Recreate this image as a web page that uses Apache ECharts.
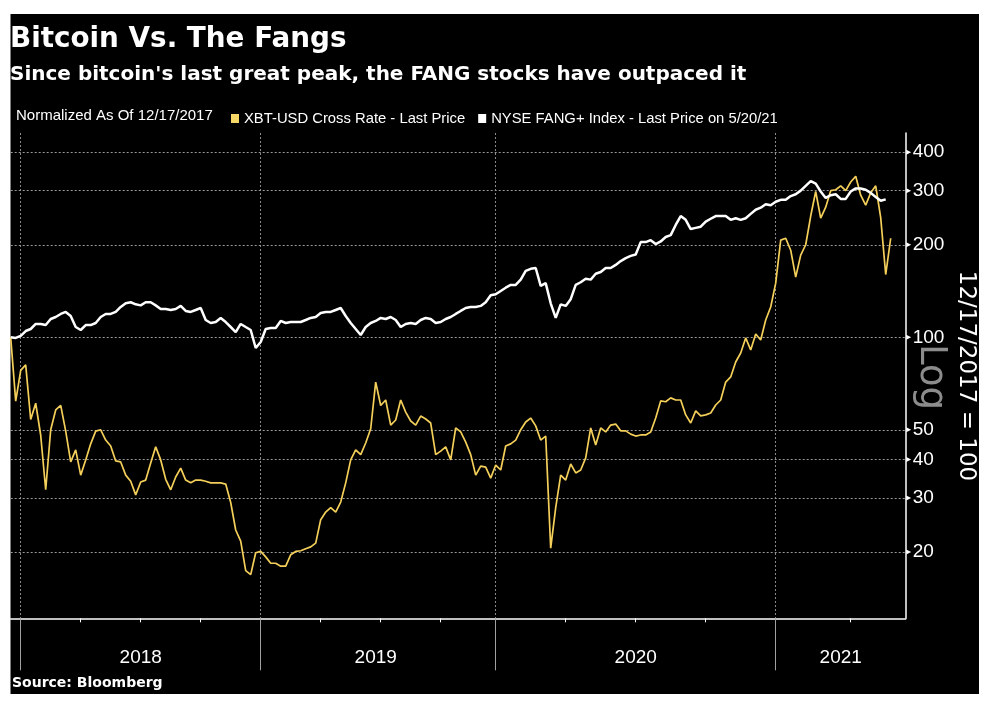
<!DOCTYPE html>
<html>
<head>
<meta charset="utf-8">
<title>Bitcoin Vs. The Fangs</title>
<script src="https://cdn.jsdelivr.net/npm/echarts@6/dist/echarts.min.js"></script>
<style>
  html, body { margin: 0; padding: 0; background: #fff; }
  #chart { width: 990px; height: 705px; }
</style>
</head>
<body>
<div id="chart"></div>
<script>
// sample dates: [first date, count, days between samples]
var dateSegments = [
    ['2017-12-17', 2, 7],
    ['2018-01-01', 48, 365 / 48],
    ['2019-01-01', 47, 365 / 47],
    ['2020-01-01', 56, 366 / 56],
    ['2021-01-01', 27, 6]
];

// XBT-USD, normalized 12/17/2017 = 100
var xbt = [
    100, 62, 78, 81.3, 54, 61, 48, 31.9, 50, 58,
    60, 49.5, 39.3, 43, 35.6, 39.9, 45, 49.5, 50, 46.3,
    44.3, 39.6, 39.3, 35.6, 34, 30.7, 33.8, 34.3, 39, 44,
    39.9, 34.5, 31.9, 35.1, 37.5, 34.3, 33.6, 34.3, 34.3, 34,
    33.6, 33.6, 33.6, 33.3, 29, 23.6, 21.7, 17.4, 16.9, 19.9,
    20.1, 19.3, 18.4, 18.4, 18.0, 18.0, 19.6, 20.1, 20.2, 20.5,
    20.8, 21.4, 25.5, 27.0, 27.9, 27.0, 29.1, 33.6, 39.9, 43,
    41.5, 45.3, 50.4, 71.5, 60, 62.5, 51.8, 53.8, 62.5, 57.1,
    53.4, 51.8, 55.4, 54.2, 52.6, 41.5, 42.6, 44, 39.9, 50.7,
    49.2, 45.6, 41.5, 35.6, 38.1, 37.8, 34.8, 38.4, 37, 44.3,
    45, 46.3, 50, 53, 54.6, 51.5, 46.3, 47.7, 20.6, 27.9,
    35.6, 34.3, 38.7, 36.2, 37, 40.5, 50.7, 44.6, 50.7, 49.2,
    51.8, 52.2, 49.6, 49.6, 48.4, 47.7, 48.1, 48.1, 49.2, 54.6,
    62.1, 61.7, 63.5, 62.5, 62.5, 55.9, 52.6, 57.6, 55.5, 55.9,
    56.7, 60.2, 62.5, 71.5, 74.3, 83.1, 88.9, 99.5, 90.9, 102.5,
    98, 113.8, 125.5, 150, 207, 210, 192, 157, 185, 200,
    248, 298, 244, 265, 300, 302, 311, 300, 320, 334,
    290, 269, 295, 311, 245, 160, 210
];

// NYSE FANG+ Index, normalized 12/17/2017 = 100
var fang = [
    100, 99.5, 101, 104.8, 106.4, 110.5, 110.5, 109.6, 114.7, 116.4,
    119.1, 120.9, 117.3, 108, 105.6, 109.6, 109.6, 111.3, 116.4, 119.1,
    119.1, 120.9, 125.5, 129, 130, 128, 127, 130, 130, 127,
    123.6, 123.6, 122.7, 123.6, 126.5, 121.8, 120.9, 122.7, 124.5, 113.8,
    111.3, 112.1, 115.6, 112.1, 108, 104, 110.5, 108, 105.6, 92.3,
    96.5, 106.4, 107.2, 107.2, 113, 111.3, 112.1, 112.1, 112.1, 113.8,
    115.6, 116.4, 120, 120.9, 120.9, 122.7, 124.5, 117.3, 111.3, 106.4,
    101.7, 108, 111.3, 113, 115.6, 114.7, 116.4, 113.8, 108, 110.5,
    111.3, 110.5, 113.8, 115.6, 114.7, 111.3, 112.1, 114.7, 116.4, 119.1,
    121.8, 124.5, 125.5, 125.5, 126.5, 130, 137, 138, 141.5, 145,
    148, 148, 154, 164.5, 167, 168, 147, 150, 129, 115.6,
    128, 126.5, 133, 148, 151, 155, 154, 161, 163, 168,
    168, 172, 177, 181, 184, 186, 204, 204, 207, 201,
    205, 212, 215, 232, 248, 241, 225, 227, 229, 238,
    243, 248, 248, 248, 241, 244, 241, 244, 252, 260,
    264, 271, 269, 276, 280, 280, 288, 292, 300, 311,
    322, 316, 298, 284, 290, 292, 282, 282, 298, 305,
    305, 302, 295, 286, 278, 281
];

var yTicks = [20, 30, 40, 50, 100, 200, 300, 400];

var NARROW = "'Liberation Sans', 'Noto Sans', sans-serif";
var SANS = "'DejaVu Sans', 'Liberation Sans', sans-serif";

function buildDates() {
    var out = [];
    dateSegments.forEach(function (seg) {
        var t0 = Date.parse(seg[0] + 'T00:00:00Z');
        for (var i = 0; i < seg[1]; i++) {
            var d = new Date(t0 + Math.round(i * seg[2]) * 86400000);
            out.push(d.toISOString().slice(0, 10));
        }
    });
    return out;
}
var dates = buildDates();

function yearOf(s) { return s.slice(0, 4); }
function quarterOf(s) { return Math.floor((+s.slice(5, 7) - 1) / 3); }

function isYearStart(i) {
    return i > 0 && yearOf(dates[i]) !== yearOf(dates[i - 1]);
}
function isQuarterStart(i) {
    return i > 0 && !isYearStart(i) && quarterOf(dates[i]) !== quarterOf(dates[i - 1]);
}

// year label goes under the middle of each year's span
var labelIdx = {};
(function () {
    var groups = {};
    dates.forEach(function (d, i) {
        var y = yearOf(d);
        if (!groups[y]) groups[y] = [i, i];
        groups[y][1] = i;
    });
    Object.keys(groups).forEach(function (y) {
        var g = groups[y];
        if (g[1] - g[0] > 5) labelIdx[Math.round((g[0] + g[1]) / 2)] = true;
    });
})();

var lastDate = dates[dates.length - 1];

var chart = echarts.init(document.getElementById('chart'));
chart.setOption({
    animation: false,
    backgroundColor: '#fff',
    title: [
        {
            text: 'Bitcoin Vs. The Fangs',
            left: 5, top: 21,
            textStyle: { color: '#fff', fontSize: 27.8, fontWeight: 'bold', fontFamily: SANS }
        },
        {
            text: "Since bitcoin's last great peak, the FANG stocks have outpaced it",
            left: 5, top: 60,
            textStyle: { color: '#fff', fontSize: 20, fontWeight: 'bold', fontFamily: SANS }
        }
    ],
    legend: {
        left: 226, top: 106,
        icon: 'rect',
        itemWidth: 8, itemHeight: 9,
        itemGap: 13,
        textStyle: { color: '#fff', fontSize: 14.8, fontFamily: NARROW },
        data: ['XBT-USD Cross Rate - Last Price', 'NYSE FANG+ Index - Last Price on 5/20/21']
    },
    graphic: [
        {
            type: 'rect', z: -10, silent: true,
            shape: { x: 10.5, y: 14, width: 968.5, height: 680 },
            style: { fill: '#000' }
        },
        {
            type: 'text', left: 16, top: 108, silent: true,
            style: { text: 'Normalized As Of 12/17/2017', fill: '#fff', fontSize: 15, fontFamily: NARROW }
        },
        {
            type: 'text', x: 931, y: 377, rotation: -Math.PI / 2, silent: true,
            style: { text: 'Log', fill: '#8c8c8c', fontSize: 37, fontFamily: SANS,
                     textAlign: 'center', textVerticalAlign: 'middle' }
        },
        {
            type: 'text', x: 966, y: 376, rotation: -Math.PI / 2, silent: true,
            style: { text: '12/17/2017 = 100', fill: '#fff', fontSize: 23, fontFamily: SANS,
                     textAlign: 'center', textVerticalAlign: 'middle' }
        },
        {
            type: 'text', left: 12, top: 676, silent: true,
            style: { text: 'Source: Bloomberg', fill: '#fff', fontSize: 14, fontWeight: 'bold', fontFamily: SANS }
        }
    ],
    grid: { left: 10.7, right: 84.3, top: 133, bottom: 86.7 },
    xAxis: [
        {
            type: 'category',
            data: dates,
            boundaryGap: false,
            axisLine: { lineStyle: { color: '#fff', width: 1.5 } },
            axisTick: {
                interval: function (i) { return isQuarterStart(i); },
                length: 4,
                lineStyle: { color: '#fff', width: 1 }
            },
            axisLabel: {
                interval: function (i) { return !!labelIdx[i]; },
                formatter: function (v) { return yearOf(v); },
                color: '#fff', fontSize: 19, fontFamily: NARROW, margin: 30
            },
            splitLine: { show: false }
        },
        {
            type: 'category',
            data: dates,
            boundaryGap: false,
            position: 'bottom',
            axisLine: { show: false },
            axisTick: {
                interval: function (i) { return isYearStart(i); },
                length: 52,
                lineStyle: { color: '#a0a0a0', width: 1 }
            },
            axisLabel: { show: false },
            splitLine: {
                show: true,
                interval: function (i) { return isYearStart(i); },
                lineStyle: { color: '#8a8a8a', type: [2, 2], width: 1 }
            }
        }
    ],
    yAxis: {
        type: 'log',
        logBase: 10,
        position: 'right',
        min: 12.18,
        max: 462,
        axisLine: { show: true, lineStyle: { color: '#fff', width: 1.5 } },
        axisTick: { show: false },
        axisLabel: { show: false },
        splitLine: { show: false }
    },
    series: [
        {
            name: 'XBT-USD Cross Rate - Last Price',
            type: 'line',
            data: xbt,
            showSymbol: false,
            symbol: 'none',
            color: '#f7d766',
            lineStyle: { color: '#f4cf5a', width: 1.7 },
            markLine: {
                silent: true,
                z: 1,
                symbol: ['none', 'none'],
                lineStyle: { color: '#9a9a9a', type: [2, 2], width: 1 },
                label: {
                    show: true, position: 'end', distance: 7,
                    color: '#fff', fontSize: 19, fontFamily: NARROW,
                    formatter: function (p) { return p.value; }
                },
                data: yTicks.map(function (v) { return { yAxis: v }; })
            }
        },
        {
            name: 'NYSE FANG+ Index - Last Price on 5/20/21',
            type: 'line',
            data: fang,
            showSymbol: false,
            symbol: 'none',
            color: '#fff',
            lineStyle: { color: '#fff', width: 2.5 },
            // small pointer marks on the right axis at each grid value
            markPoint: {
                silent: true,
                symbol: 'triangle',
                symbolSize: [5, 5],
                symbolRotate: -90,
                symbolOffset: [3, 0],
                itemStyle: { color: '#fff' },
                label: { show: false },
                data: yTicks.map(function (v) { return { coord: [lastDate, v] }; })
            }
        }
    ]
});
</script>
</body>
</html>
